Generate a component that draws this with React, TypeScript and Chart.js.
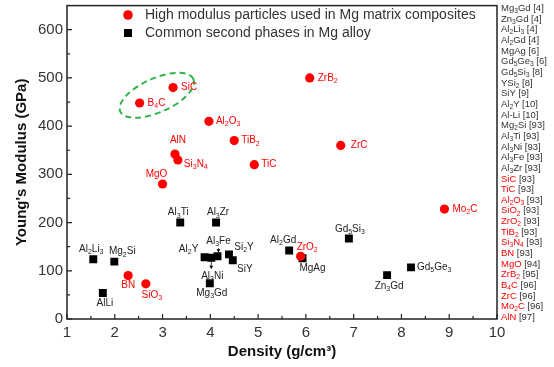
import React, { useEffect, useRef } from "react";
import { Chart, registerables } from "chart.js";

Chart.register(...registerables);

// ---------- data ----------
const particleNames = ["SiC", "B4C", "Al2O3", "TiB2", "ZrB2", "ZrC", "AlN", "Si3N4", "MgO", "TiC", "Mo2C", "ZrO2", "BN", "SiO3"];
const particleDensity = [3.22, 2.52, 3.97, 4.5, 6.08, 6.73, 3.26, 3.32, 3.0, 4.92, 8.9, 5.89, 2.28, 2.65];
const particleModulus = [480, 448, 410, 370, 500, 360, 342, 330, 280, 320, 228, 130, 90, 73];

const phaseNames = ["Al2Li3", "Mg2Si", "AlLi", "Al3Ti", "Al3Zr", "Al2Y", "Al3Ni", "Al3Fe", "Si2Y", "SiY", "Mg3Gd", "Al2Gd", "MgAg", "Gd5Si3", "Zn3Gd", "Gd5Ge3"];
const phaseDensity = [1.55, 1.99, 1.75, 3.37, 4.12, 3.88, 4.02, 4.15, 4.39, 4.47, 3.99, 5.65, 5.93, 6.9, 7.7, 8.2];
const phaseModulus = [124, 119, 54, 200, 200, 128, 127, 130, 134, 122, 74, 142, 126, 167, 91, 107];

const xTickValues = [1, 2, 3, 4, 5, 6, 7, 8, 9, 10];
const yTickValues = [0, 100, 200, 300, 400, 500, 600];

const legendLabels = ["High modulus particles used in Mg matrix composites", "Common second phases in Mg alloy"];
const axisTitles = ["Density (g/cm³)", "Young's Modulus (GPa)"];

const refNames = ["Mg3Gd", "Zn3Gd", "Al2Li3", "Al2Gd", "MgAg", "Gd5Ge3", "Gd5Si3", "YSi2", "SiY", "Al2Y", "Al-Li", "Mg2Si", "Al3Ti", "Al3Ni", "Al3Fe", "Al3Zr",
  "SiC", "TiC", "Al2O3", "SiO2", "ZrO2", "TiB2", "Si3N4", "BN", "MgO", "ZrB2", "B4C", "ZrC", "Mo2C", "AlN"];
const refCites = ["[4]", "[4]", "[4]", "[4]", "[6]", "[6]", "[8]", "[8]", "[9]", "[10]", "[10]", "[93]", "[93]", "[93]", "[93]", "[93]",
  "[93]", "[93]", "[93]", "[93]", "[93]", "[93]", "[93]", "[93]", "[94]", "[95]", "[96]", "[96]", "[96]", "[97]"];
const refIsParticle = refNames.map((_, i) => i >= 16);

// ---------- label placement (styling, pixel offsets) ----------
const particleLabelPos: [number, number, CanvasTextAlign][] = [
  [8, 0, "left"], [8, 0, "left"], [7, 0, "left"], [7, 0, "left"], [8, 0, "left"], [10, 0, "left"],
  [3, -14, "center"], [6, 4, "left"], [-6, -10, "center"], [7, 0, "left"], [8, 0, "left"],
  [-4, -9, "left"], [0, 10, "center"], [6, 11, "center"],
];
const phaseLabelPos: [number, number, CanvasTextAlign][] = [
  [-2, -10, "center"], [8, -10, "center"], [2, 10, "center"], [-2, -10, "center"], [2, -10, "center"],
  [-16, -8, "center"], [1, 18, "center"], [1, -15, "center"], [15, -7, "center"], [12, 9, "center"],
  [2, 10, "center"], [-6, -10, "center"], [10, 10, "center"], [1, -9, "center"], [2, 11, "center"], [6, 0, "left"],
];

const FONT = "'Liberation Sans', Arial, sans-serif";
const RED = "#ff0000";
const DARK = "#333333";

type Seg = { t: string; sub: boolean };
function segments(text: string): Seg[] {
  const segs: Seg[] = [];
  let inBracket = false;
  let prev = "";
  let prevSub = false;
  for (const ch of text) {
    if (ch === "[") inBracket = true;
    const isDigit = ch >= "0" && ch <= "9";
    const sub = isDigit && !inBracket && (/[A-Za-z]/.test(prev) || prevSub);
    if (ch === "]") inBracket = false;
    const last = segs[segs.length - 1];
    if (last && last.sub === sub) last.t += ch;
    else segs.push({ t: ch, sub });
    prev = ch;
    prevSub = sub;
  }
  return segs;
}

function drawRich(ctx: CanvasRenderingContext2D, text: string, x: number, y: number, align: CanvasTextAlign, size: number, color: string, weight = "normal") {
  const segs = segments(text);
  const subSize = size * 0.7;
  let total = 0;
  const widths = segs.map((s) => {
    ctx.font = `${weight} ${s.sub ? subSize : size}px ${FONT}`;
    const w = ctx.measureText(s.t).width;
    total += w;
    return w;
  });
  let cx = align === "center" ? x - total / 2 : align === "right" ? x - total : x;
  ctx.textAlign = "left";
  ctx.textBaseline = "middle";
  ctx.fillStyle = color;
  segs.forEach((s, i) => {
    ctx.font = `${weight} ${s.sub ? subSize : size}px ${FONT}`;
    ctx.fillText(s.t, cx, s.sub ? y + size * 0.3 : y);
    cx += widths[i];
  });
  return total;
}

const decorPlugin = {
  id: "decor",
  afterDatasetsDraw(chart: any) {
    const ctx: CanvasRenderingContext2D = chart.ctx;
    const xs = chart.scales.x;
    const ys = chart.scales.y;
    const a = chart.chartArea;
    ctx.save();

    // ellipse around SiC and B4C
    const cx = xs.getPixelForValue(2.88);
    const cy = ys.getPixelForValue(464);
    ctx.beginPath();
    ctx.setLineDash([6, 4]);
    ctx.strokeStyle = "#2fb24a";
    ctx.lineWidth = 2;
    ctx.ellipse(cx, cy, 40, 17, (-24 * Math.PI) / 180, 0, Math.PI * 2);
    ctx.stroke();
    ctx.setLineDash([]);

    // point labels
    particleNames.forEach((n, i) => {
      const px = xs.getPixelForValue(particleDensity[i]);
      const py = ys.getPixelForValue(particleModulus[i]);
      const [dx, dy, al] = particleLabelPos[i];
      drawRich(ctx, n, px + dx, py + dy, al, 10, RED);
    });
    phaseNames.forEach((n, i) => {
      const px = xs.getPixelForValue(phaseDensity[i]);
      const py = ys.getPixelForValue(phaseModulus[i]);
      const [dx, dy, al] = phaseLabelPos[i];
      drawRich(ctx, n, px + dx, py + dy, al, 10, "#222");
    });

    // small arrows (Al3Fe, Al3Ni)
    const arrow = (x: number, y1: number, y2: number) => {
      ctx.strokeStyle = "#000";
      ctx.fillStyle = "#000";
      ctx.lineWidth = 0.8;
      ctx.beginPath();
      ctx.moveTo(x, y1);
      ctx.lineTo(x, y2);
      ctx.stroke();
      const d = y2 > y1 ? 1 : -1;
      ctx.beginPath();
      ctx.moveTo(x - 2, y2 - 3 * d);
      ctx.lineTo(x + 2, y2 - 3 * d);
      ctx.lineTo(x, y2);
      ctx.closePath();
      ctx.fill();
    };
    {
      const fx = xs.getPixelForValue(phaseDensity[7]);
      const fy = ys.getPixelForValue(phaseModulus[7]);
      arrow(fx + 1, fy - 8, fy - 4);
      const nx = xs.getPixelForValue(phaseDensity[6]);
      const ny = ys.getPixelForValue(phaseModulus[6]);
      arrow(nx, ny + 4, ny + 11);
    }

    // legend
    ctx.fillStyle = RED;
    ctx.beginPath();
    ctx.arc(128, 15, 4.8, 0, Math.PI * 2);
    ctx.fill();
    ctx.fillStyle = "#000";
    ctx.fillRect(124, 29, 8, 8);
    ctx.font = `14px ${FONT}`;
    ctx.fillStyle = DARK;
    ctx.textAlign = "left";
    ctx.textBaseline = "middle";
    ctx.fillText(legendLabels[0], 145, 15);
    ctx.fillText(legendLabels[1], 145, 33);

    // frame
    ctx.strokeStyle = "#222";
    ctx.lineWidth = 1.5;
    ctx.strokeRect(a.left, a.top, a.right - a.left, a.bottom - a.top);

    // inward ticks
    ctx.lineWidth = 1.2;
    ctx.beginPath();
    for (let v = 1; v <= 10.001; v += 0.5) {
      const x = xs.getPixelForValue(v);
      const major = Math.abs(v - Math.round(v)) < 1e-6;
      ctx.moveTo(x, a.bottom);
      ctx.lineTo(x, a.bottom - (major ? 5 : 3));
    }
    for (let v = 0; v <= 600; v += 50) {
      const y = ys.getPixelForValue(v);
      const major = v % 100 === 0;
      ctx.moveTo(a.left, y);
      ctx.lineTo(a.left + (major ? 5 : 3), y);
    }
    ctx.stroke();

    // axis titles
    ctx.fillStyle = "#111";
    ctx.font = `bold 15px ${FONT}`;
    ctx.textAlign = "center";
    ctx.textBaseline = "middle";
    ctx.fillText(axisTitles[0], (a.left + a.right) / 2, 352);
    ctx.save();
    ctx.translate(22, (a.top + a.bottom) / 2);
    ctx.rotate(-Math.PI / 2);
    ctx.fillText(axisTitles[1], 0, 0);
    ctx.restore();

    // reference list
    refNames.forEach((n, i) => {
      const y = 8.5 + i * 10.65;
      const w = drawRich(ctx, n, 501, y, "left", 9.5, refIsParticle[i] ? RED : DARK);
      ctx.font = `9.5px ${FONT}`;
      ctx.fillStyle = DARK;
      ctx.textAlign = "left";
      ctx.fillText(" " + refCites[i], 501 + w, y);
    });

    ctx.restore();
  },
};

export default function App() {
  const ref = useRef<HTMLCanvasElement | null>(null);
  useEffect(() => {
    if (!ref.current) return;
    const chart = new Chart(ref.current, {
      type: "scatter",
      data: {
        datasets: [
          {
            label: legendLabels[0],
            data: particleDensity.map((d, i) => ({ x: d, y: particleModulus[i] })),
            backgroundColor: RED,
            borderColor: RED,
            pointStyle: "circle",
            pointRadius: 4.6,
            borderWidth: 0,
            order: 0,
          },
          {
            label: legendLabels[1],
            data: phaseDensity.map((d, i) => ({ x: d, y: phaseModulus[i] })),
            backgroundColor: "#000",
            borderColor: "#000",
            pointStyle: "rect",
            pointRadius: 5.6,
            borderWidth: 0,
            order: 1,
          },
        ],
      },
      options: {
        responsive: false,
        animation: false,
        layout: { padding: { top: 3, right: 57, left: 0, bottom: 0 } },
        plugins: { legend: { display: false }, tooltip: { enabled: false } },
        scales: {
          x: {
            type: "linear",
            min: 1,
            max: 10,
            grid: { display: false, drawTicks: false },
            border: { display: false },
            afterBuildTicks: (s: any) => {
              s.ticks = xTickValues.map((v) => ({ value: v }));
            },
            afterFit: (s: any) => {
              s.height = 48;
              s.paddingLeft = 0;
              s.paddingRight = 0;
            },
            ticks: { font: { size: 15, family: FONT }, color: DARK, padding: 5, maxRotation: 0, autoSkip: false },
          },
          y: {
            type: "linear",
            min: 0,
            max: 650,
            grid: { display: false, drawTicks: false },
            border: { display: false },
            afterBuildTicks: (s: any) => {
              s.ticks = yTickValues.map((v) => ({ value: v }));
            },
            afterFit: (s: any) => {
              s.width = 67;
              s.paddingTop = 0;
              s.paddingBottom = 0;
            },
            ticks: { font: { size: 15, family: FONT }, color: DARK, padding: 4 },
          },
        },
      },
      plugins: [decorPlugin],
    });
    return () => chart.destroy();
  }, []);
  return (
    <div style={{ position: "fixed", left: 0, top: 0, width: 554, height: 367, background: "#fff" }}>
      <canvas ref={ref} width={554} height={367} />
    </div>
  );
}
